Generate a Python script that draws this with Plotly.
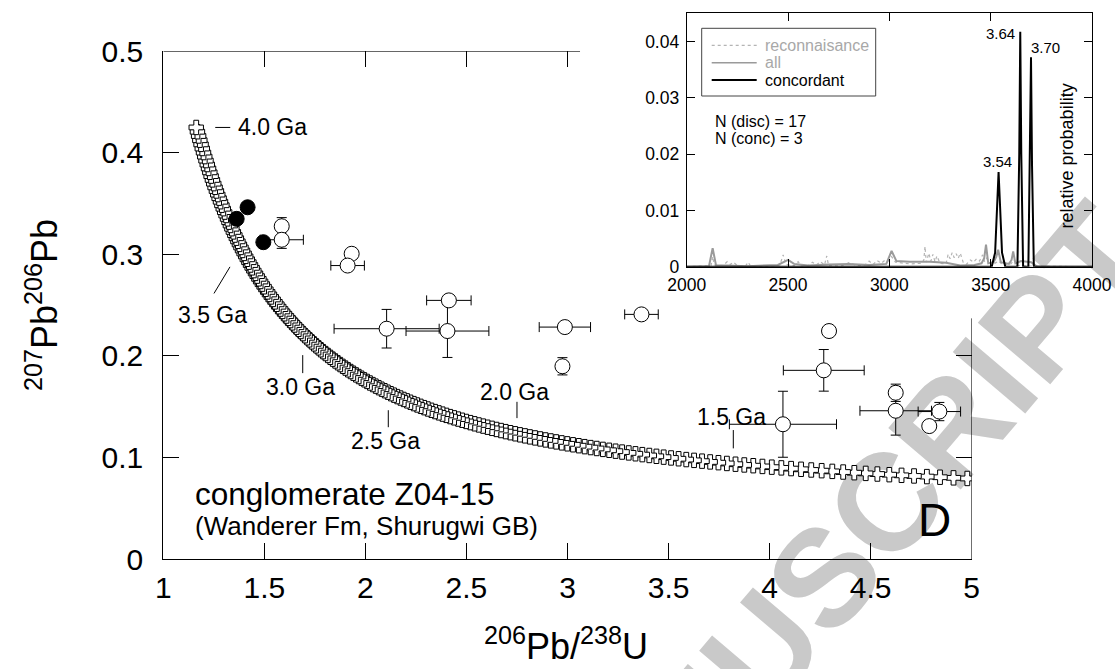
import numpy as np
import plotly.graph_objects as go

# ---------------- data ----------------
# concordant analyses (filled circles)
conc_x = [1.417, 1.363, 1.495]
conc_y = [0.3464, 0.335, 0.312]

# discordant analyses (open circles) with error bars
disc_x = [1.586, 1.586, 1.932, 1.912, 2.413, 2.105, 2.406, 2.987, 3.366,
          2.975, 4.294, 4.268, 4.066, 4.624, 4.624, 4.840, 4.790]
disc_y = [0.3277, 0.3144, 0.3006, 0.289, 0.2547, 0.2268, 0.2245, 0.2284, 0.2409,
          0.1898, 0.2245, 0.1858, 0.1327, 0.1637, 0.1460, 0.1452, 0.1309]
disc_xerr = [0, 0.107, 0, 0.083, 0.11, 0.26, 0.205, 0.127, 0.083,
             0, 0, 0.20, 0.265, 0, 0.177, 0.105, 0]
disc_yerr = [0.0085, 0.0085, 0, 0, 0, 0.019, 0.026, 0, 0,
             0.0085, 0, 0.0205, 0.0325, 0.0085, 0.024, 0.009, 0]

# concordia age marks (Ga) and their labels
age_marks_ga = [4.0, 3.5, 3.0, 2.5, 2.0, 1.5]
age_labels = ["4.0 Ga", "3.5 Ga", "3.0 Ga", "2.5 Ga", "2.0 Ga", "1.5 Ga"]

# inset: relative probability curves (age in Ma, probability)
recon_age = [2000, 2120, 2128, 2136, 2180, 2200, 2215, 2230, 2250, 2290, 2303, 2316, 2400,
             2460, 2476, 2490, 2530, 2550, 2565, 2600, 2620, 2640, 2660, 2680, 2691, 2700,
             2760, 2800, 2840, 2880, 2900, 2920, 2940, 2960, 2980, 2995, 3011, 3030, 3100,
             3160, 3170, 3176, 3182, 3195, 3205, 3215, 3225, 3235, 3250, 3280, 3290, 3300,
             3310, 3320, 3330, 3340, 3350, 3365, 3380, 3400, 3415, 3430, 3445, 3460, 3470,
             3480, 3500, 3520, 3540, 3560, 3600, 3615, 3630, 3700, 4000]
recon_prob = [0, 0.0002, 0.0018, 0.0003, 0.0002, 0.0009, 0.0004, 0.0008, 0.0002, 0.0001, 0.0008,
              0.0001, 0.0001, 0.0003, 0.0021, 0.0004, 0.0002, 0.0009, 0.0001, 0.0002, 0.0008,
              0.0003, 0.0009, 0.0003, 0.0019, 0.0002, 0.0001, 0.0007, 0.0002, 0.0003, 0.0010,
              0.0004, 0.0011, 0.0006, 0.0012, 0.0010, 0.0018, 0.0008, 0.0005, 0.0006, 0.0012,
              0.0036, 0.0008, 0.0024, 0.0010, 0.0022, 0.0009, 0.0019, 0.0006, 0.0005, 0.0022,
              0.0014, 0.0025, 0.0016, 0.0023, 0.0015, 0.0024, 0.0007, 0.0004, 0.0012, 0.0008,
              0.0014, 0.0010, 0.0021, 0.0009, 0.0015, 0.0004, 0.0006, 0.0010, 0.0003, 0.0005,
              0.0012, 0.0002, 0.0001, 0]

all_age = [2000, 2110, 2128, 2145, 2200, 2300, 2450, 2480, 2500, 2530, 2600, 2700, 2800,
           2900, 2985, 3011, 3035, 3100, 3200, 3280, 3350, 3420, 3455, 3468, 3477, 3488,
           3515, 3528, 3537, 3550, 3590, 3603, 3611, 3622, 3650, 3700, 3725, 3800, 4000]
all_prob = [0, 0.0001, 0.0033, 0.0002, 0.0002, 0.0001, 0.0003, 0.0008, 0.0012, 0.0005, 0.0002,
            0.0004, 0.0005, 0.0003, 0.0005, 0.0028, 0.0010, 0.0009, 0.0009, 0.0007, 0.0002,
            0.0003, 0.0006, 0.0015, 0.0039, 0.0006, 0.0008, 0.0018, 0.0030, 0.0008, 0.0005,
            0.0012, 0.0027, 0.0006, 0.0010, 0.0008, 0.0001, 0, 0]

conc_age = [2000, 3505, 3522, 3532, 3539, 3546, 3556, 3572, 3632, 3641, 3646, 3651, 3660,
            3686, 3694, 3699, 3704, 3713, 4000]
conc_prob = [0, 0, 0.0025, 0.0110, 0.0168, 0.0110, 0.0025, 0, 0, 0.0200, 0.0417, 0.0200, 0,
             0, 0.0180, 0.0372, 0.0180, 0, 0]

peak_labels = ["3.54", "3.64", "3.70"]

# concordia (Tera-Wasserburg form) from the U decay constants
LAMBDA_238 = 1.55125e-10
LAMBDA_235 = 9.8485e-10
U_RATIO = 137.88
concordia_age_ga = np.round(np.arange(4.0, 1.17, -0.015)[::-1], 4)
t_yr = concordia_age_ga * 1e9
e8 = np.exp(LAMBDA_238 * t_yr) - 1.0
e5 = np.exp(LAMBDA_235 * t_yr) - 1.0
concordia_x = 1.0 / e8
concordia_y = e5 / e8 / U_RATIO

mark_t = np.array(age_marks_ga) * 1e9
mark_x = 1.0 / (np.exp(LAMBDA_238 * mark_t) - 1.0)
mark_y = (np.exp(LAMBDA_235 * mark_t) - 1.0) / (np.exp(LAMBDA_238 * mark_t) - 1.0) / U_RATIO

# ---------------- figure ----------------
FONT = "Liberation Sans, Arial, sans-serif"
W, H = 1115, 669


def px(xp):
    return xp / W


def py(yp):
    return 1 - yp / H


fig = go.Figure()

fig.add_trace(go.Scatter(
    x=concordia_x, y=concordia_y, mode="markers",
    marker=dict(symbol="cross", size=12, color="white", line=dict(color="black", width=1)),
    hoverinfo="skip", showlegend=False))

fig.add_trace(go.Scatter(
    x=disc_x, y=disc_y, mode="markers",
    marker=dict(symbol="circle", size=15, color="white", line=dict(color="black", width=1)),
    error_x=dict(type="data", array=disc_xerr, color="black", thickness=1, width=5),
    error_y=dict(type="data", array=disc_yerr, color="black", thickness=1, width=5),
    showlegend=False))

fig.add_trace(go.Scatter(
    x=conc_x, y=conc_y, mode="markers",
    marker=dict(symbol="circle", size=15, color="black", line=dict(color="black", width=1)),
    showlegend=False))

# overlay axes for top / right tick marks
fig.add_trace(go.Scatter(x=[None], y=[None], xaxis="x3", yaxis="y3", showlegend=False,
                         hoverinfo="skip"))

# inset curves
fig.add_trace(go.Scatter(x=recon_age, y=recon_prob, mode="lines", xaxis="x2", yaxis="y2",
                         line=dict(color="#b4b4b4", width=1.2, dash="dot"),
                         name="reconnaisance", showlegend=False))
fig.add_trace(go.Scatter(x=all_age, y=all_prob, mode="lines", xaxis="x2", yaxis="y2",
                         line=dict(color="#9a9a9a", width=2), name="all", showlegend=False))
fig.add_trace(go.Scatter(x=conc_age, y=conc_prob, mode="lines", xaxis="x2", yaxis="y2",
                         line=dict(color="black", width=2), name="concordant", showlegend=False))

main_xdom = [163.3 / W, 971.7 / W]
main_ydom = [1 - 559 / H, 1 - 51.3 / H]
ins_xdom = [686.7 / W, 1092 / W]
ins_ydom = [1 - 266.7 / H, 1 - 13.3 / H]

axis_common = dict(showgrid=False, zeroline=False, ticks="inside", tickcolor="black",
                   tickwidth=1, linecolor="black", linewidth=1, automargin=False)

fig.update_layout(
    width=W, height=H, margin=dict(l=0, r=0, t=0, b=0, pad=0, autoexpand=False),
    paper_bgcolor="white", plot_bgcolor="rgba(0,0,0,0)",
    font=dict(family=FONT, color="black"),
    showlegend=False,
    xaxis=dict(domain=main_xdom, range=[1, 5], tickvals=[1, 1.5, 2, 2.5, 3, 3.5, 4, 4.5, 5],
               ticklen=16, showline=True, anchor="y", tickfont=dict(size=30),
               ticklabelstandoff=2, **axis_common),
    yaxis=dict(domain=main_ydom, range=[0, 0.5], tickvals=[0, 0.1, 0.2, 0.3, 0.4, 0.5],
               ticklen=16, showline=True, anchor="x", tickfont=dict(size=30),
               ticklabelstandoff=13, **axis_common),
    xaxis3=dict(overlaying="x", side="top", anchor="y", range=[1, 5],
                tickvals=[1.5, 2, 2.5, 3], ticklen=16, showline=False,
                showticklabels=False, **axis_common),
    yaxis3=dict(overlaying="y", side="right", anchor="x", range=[0, 0.5],
                tickvals=[0, 0.1, 0.2], ticklen=16, showline=False,
                showticklabels=False, **axis_common),
    xaxis2=dict(domain=ins_xdom, range=[2000, 4000], tickvals=[2000, 2500, 3000, 3500, 4000],
                ticklen=8, showline=True, mirror="ticks", anchor="y2",
                tickfont=dict(size=17.5), ticklabelstandoff=2, **axis_common),
    yaxis2=dict(domain=ins_ydom, range=[0, 0.045], tickvals=[0, 0.01, 0.02, 0.03, 0.04],
                ticktext=["0", "0.01", "0.02", "0.03", "0.04"],
                ticklen=8, showline=True, mirror="ticks", anchor="x2",
                tickfont=dict(size=17.5), ticklabelstandoff=3, **axis_common),
)

shapes = []
# watermark (drawn below the data)
wm_cx, wm_cy = 556.0, 872.0
wm_ux, wm_uy = 0.647, -0.762
shapes.append(dict(type="line", xref="paper", yref="paper",
                   x0=px(wm_cx - wm_ux * 300), y0=py(wm_cy - wm_uy * 300),
                   x1=px(wm_cx + wm_ux * 300), y1=py(wm_cy + wm_uy * 300),
                   line=dict(color="rgba(0,0,0,0)", width=0), layer="below",
                   label=dict(text="ACCEPTED MANUSCRIPT", textposition="middle",
                              xanchor="center", yanchor="middle", padding=0,
                              font=dict(size=138, color="#c9c9c9", family=FONT,
                                        weight="bold"))))
# partial frame lines of the main plot (top and right)
shapes.append(dict(type="line", xref="x", yref="y", x0=1, x1=3.062, y0=0.5, y1=0.5,
                   line=dict(color="black", width=1)))
shapes.append(dict(type="line", xref="x", yref="y", x0=5, x1=5, y0=0, y1=0.237,
                   line=dict(color="black", width=1)))

# concordia age ticks and labels: pixel offsets from the concordia point
tick_specs = [
    ((19, 0), (34, 0), (39.4, 0), "left"),
    ((-11.5, 18.4), (-27.5, 45), (-29, 66.7), "center"),
    ((0.5, 22.2), (0.5, 40.2), (-1.7, 54.5), "center"),
    ((0.5, 18), (0.5, 35), (-2, 49), "center"),
    ((0.2, -32.3), (0.2, -16), (-2.5, -42.3), "center"),
    ((0.7, -33.9), (0.7, -15.6), (-0.9, -47.2), "center"),
]
x_scale = (5 - 1) / (971.7 - 163.3)
y_scale = 0.5 / (559 - 51.3)
annotations = []
for (mx, my, lab, spec) in zip(mark_x, mark_y, age_labels, tick_specs):
    (a0, b0), (a1, b1), (la, lb), anchor = spec
    shapes.append(dict(type="line", xref="x", yref="y",
                       x0=mx + a0 * x_scale, y0=my - b0 * y_scale,
                       x1=mx + a1 * x_scale, y1=my - b1 * y_scale,
                       line=dict(color="black", width=1)))
    annotations.append(dict(x=mx + la * x_scale, y=my - lb * y_scale, xref="x", yref="y",
                            text=lab, showarrow=False, xanchor=anchor, yanchor="middle",
                            font=dict(size=23, family=FONT, color="black")))

# legend of the inset (drawn by hand)
shapes.append(dict(type="rect", xref="paper", yref="paper", x0=px(701.7), x1=px(875.7),
                   y0=py(96), y1=py(28.3), line=dict(color="#444444", width=1),
                   fillcolor="rgba(0,0,0,0)"))
leg_items = [("reconnaisance", "#b4b4b4", "dot", 1.2, "#a8a8a8"),
             ("all", "#9a9a9a", "solid", 1.5, "#a8a8a8"),
             ("concordant", "black", "solid", 2, "black")]
for i, (name, lc, dash, lw, tc) in enumerate(leg_items):
    yy = 45.3 + i * 17.35
    shapes.append(dict(type="line", xref="paper", yref="paper", x0=px(711.7), x1=px(756.7),
                       y0=py(yy), y1=py(yy), line=dict(color=lc, width=lw, dash=dash)))
    annotations.append(dict(x=px(763), y=py(yy), xref="paper", yref="paper", text=name,
                            showarrow=False, xanchor="left", yanchor="middle",
                            font=dict(size=16, family=FONT, color=tc)))

# inset texts
annotations.append(dict(x=2128, y=0.0258, xref="x2", yref="y2", text="N (disc) = 17",
                        showarrow=False, xanchor="left", yanchor="middle",
                        font=dict(size=16, family=FONT)))
annotations.append(dict(x=2128, y=0.02285, xref="x2", yref="y2", text="N (conc) = 3",
                        showarrow=False, xanchor="left", yanchor="middle",
                        font=dict(size=16, family=FONT)))
peak_label_pos = [(3536, 0.0187), (3550, 0.0415), (3772, 0.0389)]
for (lx, ly), lab in zip(peak_label_pos, peak_labels):
    annotations.append(dict(x=lx, y=ly, xref="x2", yref="y2", text=lab, showarrow=False,
                            xanchor="center", yanchor="middle", font=dict(size=15, family=FONT)))
annotations.append(dict(x=3875, y=0.0197, xref="x2", yref="y2", text="relative probability",
                        showarrow=False, textangle=-90, xanchor="center", yanchor="middle",
                        font=dict(size=18, family=FONT)))

# main texts
annotations.append(dict(x=1.148, y=0.064, xref="x", yref="y", text="conglomerate Z04-15",
                        showarrow=False, xanchor="left", yanchor="middle",
                        font=dict(size=31.5, family=FONT)))
annotations.append(dict(x=1.148, y=0.0325, xref="x", yref="y",
                        text="(Wanderer Fm, Shurugwi GB)",
                        showarrow=False, xanchor="left", yanchor="middle",
                        font=dict(size=26, family=FONT)))
annotations.append(dict(x=4.818, y=0.0384, xref="x", yref="y", text="D",
                        showarrow=False, xanchor="center", yanchor="middle",
                        font=dict(size=46, family=FONT)))

# axis titles
annotations.append(dict(x=px(566), y=py(644), xref="paper", yref="paper",
                        text="<sup>206</sup>Pb/<sup>238</sup>U", showarrow=False,
                        xanchor="center", yanchor="middle", font=dict(size=36, family=FONT)))
annotations.append(dict(x=px(42), y=py(305), xref="paper", yref="paper",
                        text="<sup>207</sup>Pb<sup>206</sup>Pb", showarrow=False,
                        textangle=-90, xanchor="center", yanchor="middle",
                        font=dict(size=36, family=FONT)))

fig.update_layout(shapes=shapes, annotations=annotations)

fig.write_html("out.html")
